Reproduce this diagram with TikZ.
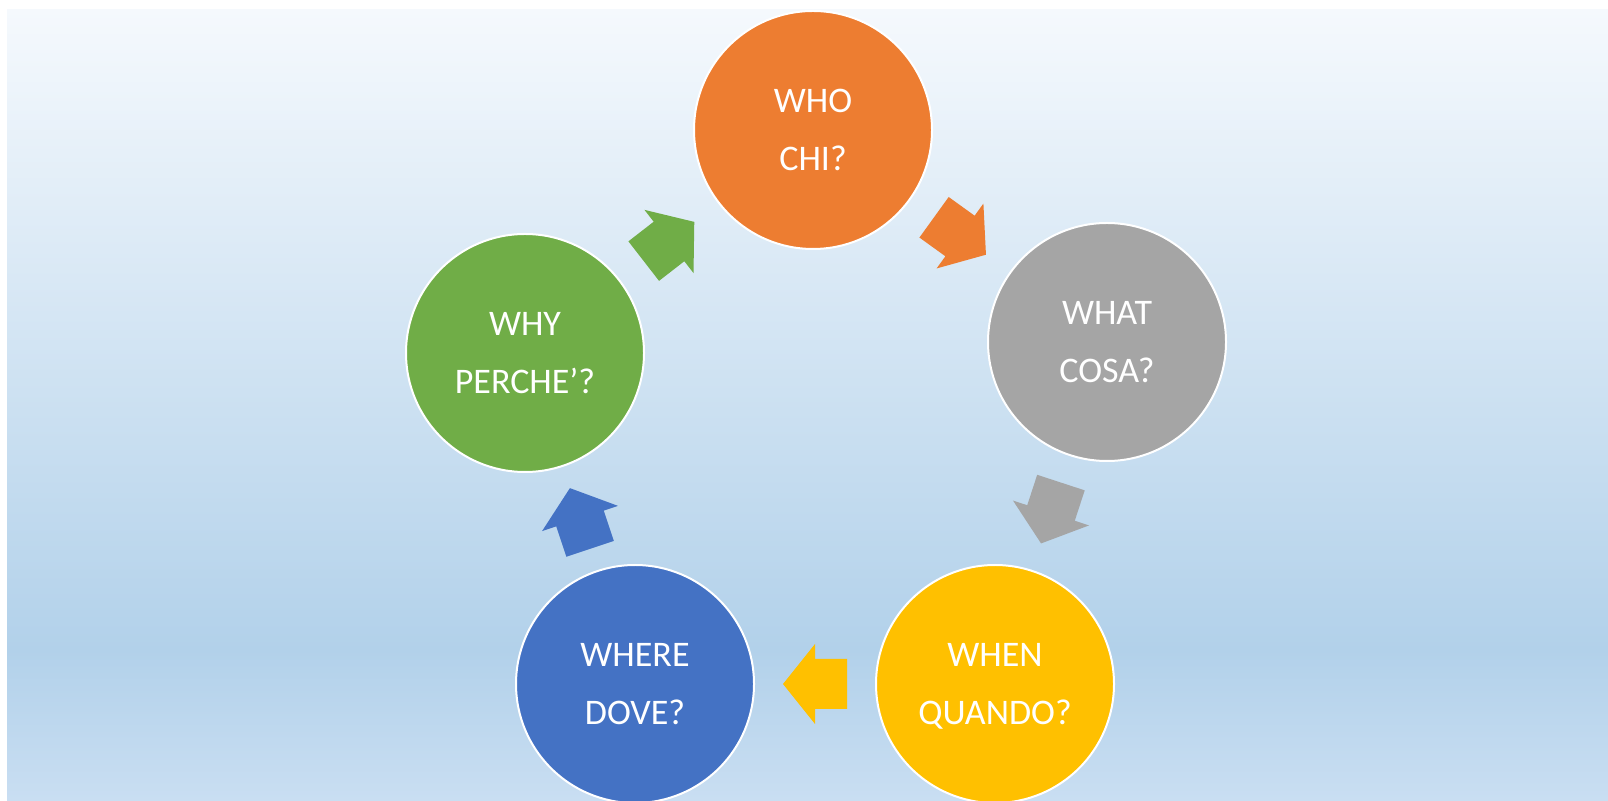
\documentclass[tikz,border=0pt]{standalone}
\usepackage{fontspec}
\setmainfont{Carlito}
\usetikzlibrary{calc}
\definecolor{bgtop}{HTML}{F5F9FD}
\definecolor{bgdark}{HTML}{B2D1EA}
\definecolor{bgbot}{HTML}{C9DEF2}
\definecolor{cOrange}{HTML}{ED7D31}
\definecolor{cGray}{HTML}{A5A5A5}
\definecolor{cYellow}{HTML}{FFC000}
\definecolor{cBlue}{HTML}{4472C4}
\definecolor{cGreen}{HTML}{70AD47}
\tikzset{
  circ/.style={circle, minimum size=238pt, inner sep=0pt, draw=white, line width=2pt,
    text=white, align=center, font=\fontsize{36}{57.3}\selectfont},
  pics/barrow/.style={code={
    \fill[#1] (-32,-25) -- (0,-25) -- (0,-40) -- (32,0) -- (0,40) -- (0,25) -- (-32,25) -- cycle;
  }}
}
\begin{document}
\begin{tikzpicture}[x=1pt,y=1pt]
\useasboundingbox (0,0) rectangle (1608,800);
\shade[top color=bgtop, bottom color=bgdark] (7,150) rectangle (1608,790);
\shade[top color=bgdark, bottom color=bgbot] (7,0) rectangle (1608,150.5);
\node[circ, fill=cOrange] (who) at (813,670) {WHO\\CHI?};
\node[circ, fill=cGray] (what) at (1107,458) {WHAT\\COSA?};
\node[circ, fill=cYellow] (when) at (995,116) {WHEN\\\smash{QUANDO?}};
\node[circ, fill=cBlue] (where) at (635,116) {WHERE\\DOVE?};
\node[circ, fill=cGreen] (why) at (525,447) {WHY\\PERCHE’?};
\pic[rotate=37.8] at ($(why)!0.5!(who)$) {barrow=cGreen};
\pic[rotate=-35.8] at ($(who)!0.5!(what)$) {barrow=cOrange};
\pic[rotate=-108.1] at ($(what)!0.5!(when)$) {barrow=cGray};
\pic[rotate=180] at ($(when)!0.5!(where)$) {barrow=cYellow};
\pic[rotate=108.4] at ($(where)!0.5!(why)$) {barrow=cBlue};
\end{tikzpicture}
\end{document}
